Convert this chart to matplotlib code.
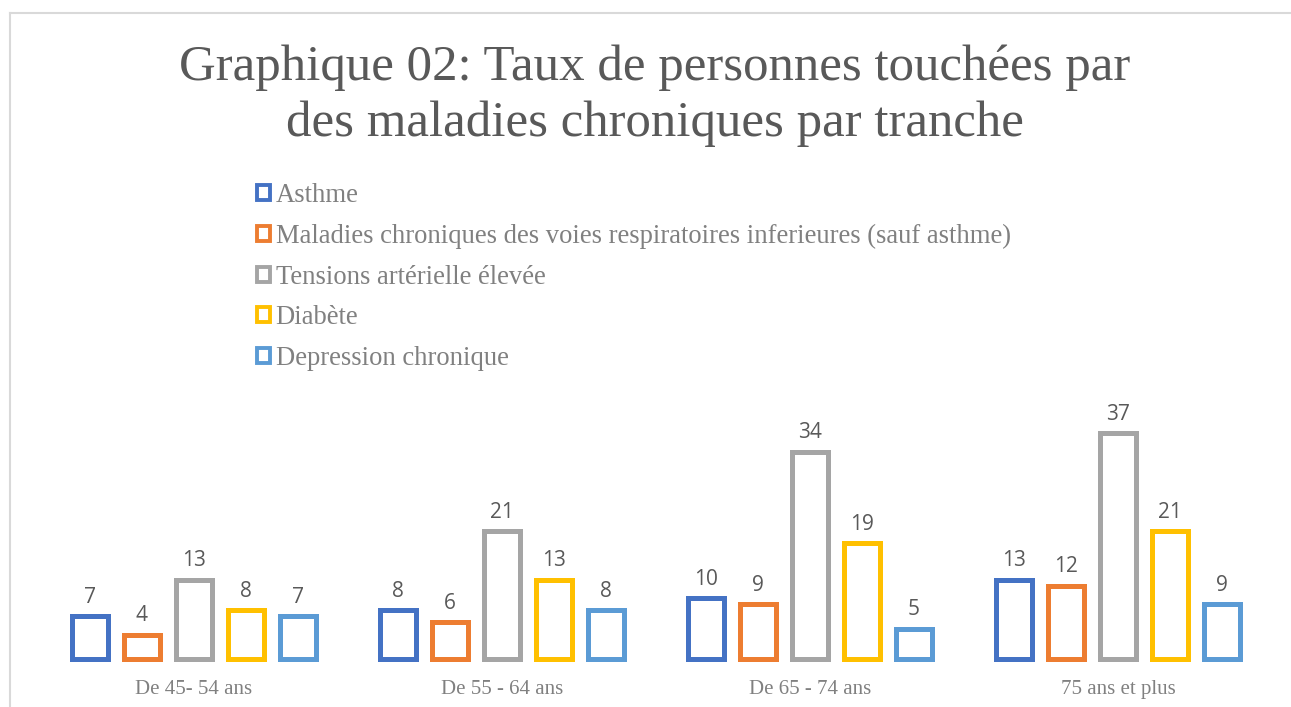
import numpy as np
import matplotlib
matplotlib.use("Agg")
import matplotlib.pyplot as plt
from matplotlib.lines import Line2D

# Données
tranches = ["De 45- 54 ans", "De 55 - 64 ans", "De 65 - 74 ans", "75 ans et plus"]
series = [
    "Asthme",
    "Maladies chroniques des voies respiratoires inferieures (sauf asthme)",
    "Tensions artérielle élevée",
    "Diabète",
    "Depression chronique",
]
asthme = [7, 8, 10, 13]
respiratoires = [4, 6, 9, 12]
tension = [13, 21, 34, 37]
diabete = [8, 13, 19, 21]
depression = [7, 8, 5, 9]
valeurs = [asthme, respiratoires, tension, diabete, depression]
couleurs = ["#4472C4", "#ED7D31", "#A5A5A5", "#FFC000", "#5B9BD5"]

W, H = 1291, 707
fig = plt.figure(figsize=(W / 100, H / 100), dpi=100)
fig.patch.set_facecolor("white")

# Cadre gris clair (haut et gauche)
fig.add_artist(Line2D([10 / W, 1], [1 - 13 / H, 1 - 13 / H], color="#d9d9d9", lw=1.5))
fig.add_artist(Line2D([10 / W, 10 / W], [0, 1 - 13 / H], color="#d9d9d9", lw=1.5))

ax = fig.add_axes([40 / W, 48 / H, 1232 / W, 274.5 / H])
x = np.arange(len(tranches))
pas = 0.169
largeur = 0.118
barres = []
for i, (nom, vals, c) in enumerate(zip(series, valeurs, couleurs)):
    pos = x + (i - 2) * pas
    b = ax.bar(pos, vals, width=largeur, facecolor="white", edgecolor=c,
               linewidth=3.6, label=nom, clip_on=False)
    barres.append(b)
    for xi, v in zip(pos, vals):
        ax.annotate(str(v), (xi, v), xytext=(0, 6), textcoords="offset points",
                    ha="center", va="bottom", fontsize=15, color="#595959",
                    family="Open Sans")

ax.set_xlim(-0.5, len(tranches) - 0.5)
ax.set_ylim(0, 45)
ax.set_xticks(x)
ax.set_xticklabels(tranches, family="Liberation Serif", fontsize=15, color="#808080")
ax.tick_params(axis="x", length=0, pad=15)
ax.set_yticks([])
for s in ax.spines.values():
    s.set_visible(False)

fig.text(655 / W, 1 - 68 / H, "Graphique 02: Taux de personnes touchées par",
         ha="center", va="center", family="Liberation Serif", fontsize=36.6, color="#595959")
fig.text(655 / W, 1 - 124 / H, "des maladies chroniques par tranche",
         ha="center", va="center", family="Liberation Serif", fontsize=36.6, color="#595959")

leg = fig.legend(handles=barres, labels=series, loc="upper left",
                 bbox_to_anchor=(257 / W, 1 - 183 / H), frameon=False,
                 prop={"family": "Liberation Serif", "size": 19.2},
                 handlelength=0.5, handleheight=0.5, handletextpad=0.2,
                 labelspacing=0.59, borderpad=0, borderaxespad=0)
for t in leg.get_texts():
    t.set_color("#808080")
for h in leg.legend_handles:
    h.set_linewidth(2.8)

fig.savefig("out.png", dpi=100)
